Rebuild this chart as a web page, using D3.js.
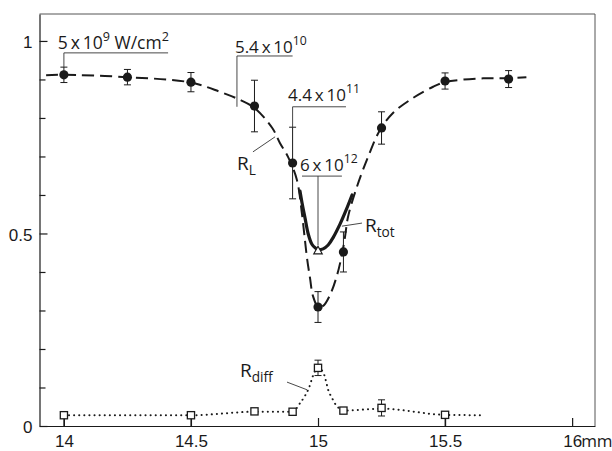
<!DOCTYPE html>
<html>
<head>
<meta charset="utf-8">
<script src="https://cdn.jsdelivr.net/npm/d3@7"></script>
<style>
  html, body { margin: 0; padding: 0; background: #fff; }
  svg { display: block; font-family: 'Open Sans', 'DejaVu Sans', sans-serif; }
</style>
</head>
<body>
<div id="chart"></div>
<script>
// R_L measured points (filled circles) with symmetric error
const rlX = [14, 14.25, 14.5, 14.75, 14.9, 15, 15.1, 15.25, 15.5, 15.75];
const rlY = [0.912, 0.906, 0.893, 0.831, 0.683, 0.309, 0.452, 0.774, 0.896, 0.901];
const rlErr = [0.02, 0.02, 0.025, 0.067, 0.093, 0.04, 0.052, 0.042, 0.021, 0.022];

// dashed R_L curve
const rlCurveX = [13.93, 14.0, 14.25, 14.5, 14.614, 14.693, 14.75, 14.82, 14.85, 14.882, 14.917, 14.937,
  14.949, 14.957, 14.969, 14.98, 15.0, 15.02, 15.047, 15.075, 15.094, 15.106, 15.118, 15.153, 15.197,
  15.244, 15.295, 15.374, 15.453, 15.5, 15.65, 15.75, 15.82];
const rlCurveY = [0.911, 0.912, 0.906, 0.892, 0.868, 0.847, 0.826, 0.774, 0.735, 0.699, 0.639, 0.55,
  0.48, 0.435, 0.382, 0.338, 0.31, 0.312, 0.34, 0.392, 0.445, 0.49, 0.543, 0.621, 0.699,
  0.769, 0.813, 0.852, 0.881, 0.893, 0.903, 0.903, 0.906];

// thick R_tot curve + triangle point
const rtotCurveX = [14.929, 14.937, 14.949, 14.961, 14.976, 14.99, 15.0, 15.02, 15.04, 15.06, 15.087, 15.11, 15.134];
const rtotCurveY = [0.61, 0.58, 0.54, 0.50, 0.472, 0.462, 0.458, 0.46, 0.47, 0.49, 0.525, 0.56, 0.60];
const rtotX = [15.0];
const rtotY = [0.455];

// R_diff measured points (open squares)
const rdX = [14, 14.5, 14.75, 14.9, 15, 15.1, 15.25, 15.5];
const rdY = [0.028, 0.028, 0.038, 0.037, 0.151, 0.04, 0.047, 0.029];
const rdErrDown = [0.028, 0.028, 0, 0, 0.02, 0, 0.021, 0.029];
const rdErrUp = [0, 0, 0, 0, 0.02, 0, 0.021, 0];

// dotted R_diff curve
const rdCurveX = [14.02, 14.5, 14.75, 14.9, 14.93, 14.95, 14.965, 14.98, 15.0, 15.02, 15.03, 15.04,
  15.055, 15.07, 15.085, 15.1, 15.25, 15.5, 15.64];
const rdCurveY = [0.028, 0.028, 0.037, 0.037, 0.06, 0.08, 0.1, 0.13, 0.151, 0.14, 0.12, 0.094,
  0.073, 0.055, 0.045, 0.04, 0.045, 0.029, 0.028];

// axes
const xTicks = [14, 14.5, 15, 15.5, 16];
const xTickLabels = ['14', '14.5', '15', '15.5', '16'];
const yTicks = [0, 0.5, 1];
const yTickLabels = ['0', '0.5', '1'];
const yMinor = [0.1, 0.2, 0.3, 0.4, 0.6, 0.7, 0.8, 0.9];

const W = 612;
const H = 451;
const ink = '#1a1a1a';
const thin = '\u2009';

const x = d3.scaleLinear().domain([13.904, 16.09]).range([39.5, 595]);
const y = d3.scaleLinear().domain([0, 1.07]).range([426, 14]);

const svg = d3.select('#chart').append('svg').attr('width', W).attr('height', H);

// frame top / right
svg.append('path')
  .attr('d', `M${x.range()[0]},${y.range()[1]} H${x.range()[1]} V${y.range()[0]}`)
  .attr('fill', 'none')
  .attr('stroke', '#555')
  .attr('stroke-width', 1);

// y axis, ticks pointing inward
const yAxis = svg.append('g')
  .attr('transform', `translate(${x.range()[0]},0)`)
  .call(d3.axisLeft(y).tickValues(yTicks).tickFormat((d, i) => yTickLabels[i])
    .tickSizeInner(-8).tickSizeOuter(0).tickPadding(7));
svg.append('g')
  .attr('transform', `translate(${x.range()[0]},0)`)
  .call(d3.axisLeft(y).tickValues(yMinor).tickFormat('').tickSizeInner(-6).tickSizeOuter(0))
  .call((g) => g.select('.domain').remove());

// x axis
svg.append('g')
  .attr('transform', `translate(0,${y(0)})`)
  .call(d3.axisBottom(x).tickValues(xTicks).tickFormat((d, i) => xTickLabels[i])
    .tickSizeInner(-8).tickSizeOuter(0).tickPadding(9));

svg.selectAll('.domain').attr('stroke', ink).attr('stroke-width', 1.2);
svg.selectAll('.tick line').attr('stroke', ink).attr('stroke-width', 1.2);
svg.selectAll('.tick text').attr('font-size', 17).attr('fill', ink).attr('font-family', null);
yAxis.selectAll('.tick text').attr('dy', '0.4em');

svg.append('text')
  .attr('x', x(16) + 9)
  .attr('y', y(0) + 9)
  .attr('dy', '0.71em')
  .attr('font-size', 17)
  .attr('fill', ink)
  .text('mm');

const line = d3.line().x((d) => x(d[0])).y((d) => y(d[1])).curve(d3.curveCatmullRom.alpha(0.5));
const zip = (a, b) => a.map((v, i) => [v, b[i]]);

// R_L dashed curve
svg.append('path')
  .datum(zip(rlCurveX, rlCurveY))
  .attr('d', line)
  .attr('fill', 'none')
  .attr('stroke', ink)
  .attr('stroke-width', 2)
  .attr('stroke-dasharray', '12 6');

// R_tot thick curve
svg.append('path')
  .datum(zip(rtotCurveX, rtotCurveY))
  .attr('d', line)
  .attr('fill', 'none')
  .attr('stroke', ink)
  .attr('stroke-width', 3.2)
  .attr('stroke-linecap', 'round');

// R_diff dotted curve
svg.append('path')
  .datum(zip(rdCurveX, rdCurveY))
  .attr('d', d3.line().x((d) => x(d[0])).y((d) => y(d[1])).curve(d3.curveMonotoneX))
  .attr('fill', 'none')
  .attr('stroke', ink)
  .attr('stroke-width', 2)
  .attr('stroke-linecap', 'round')
  .attr('stroke-dasharray', '0.1 5');

function errBar(cx, lo, hi, cap) {
  const g = svg.append('g').attr('stroke', ink).attr('stroke-width', 1);
  g.append('line').attr('x1', x(cx)).attr('x2', x(cx)).attr('y1', y(lo)).attr('y2', y(hi));
  if (cap) {
    [lo, hi].forEach((v) => g.append('line')
      .attr('x1', x(cx) - 3.5).attr('x2', x(cx) + 3.5).attr('y1', y(v)).attr('y2', y(v)));
  }
}

rlX.forEach((v, i) => errBar(v, rlY[i] - rlErr[i], rlY[i] + rlErr[i], true));
rdX.forEach((v, i) => {
  if (rdErrDown[i] || rdErrUp[i]) errBar(v, rdY[i] - rdErrDown[i], rdY[i] + rdErrUp[i], rdErrUp[i] > 0);
});

svg.append('g')
  .selectAll('circle')
  .data(zip(rlX, rlY))
  .join('circle')
  .attr('cx', (d) => x(d[0]))
  .attr('cy', (d) => y(d[1]))
  .attr('r', 4.6)
  .attr('fill', ink);

svg.append('g')
  .selectAll('rect')
  .data(zip(rdX, rdY))
  .join('rect')
  .attr('x', (d) => x(d[0]) - 3.6)
  .attr('y', (d) => y(d[1]) - 3.6)
  .attr('width', 7.2)
  .attr('height', 7.2)
  .attr('fill', '#fff')
  .attr('stroke', ink)
  .attr('stroke-width', 1.3);

svg.append('g')
  .selectAll('path')
  .data(zip(rtotX, rtotY))
  .join('path')
  .attr('transform', (d) => `translate(${x(d[0])},${y(d[1])})`)
  .attr('d', 'M0,-4.5 L4.2,3 L-4.2,3 Z')
  .attr('fill', '#fff')
  .attr('stroke', ink)
  .attr('stroke-width', 1.2);

// annotation brackets and leader lines (data coords)
function seg(pts, w = 0.9) {
  svg.append('path')
    .attr('d', d3.line().x((d) => x(d[0])).y((d) => y(d[1]))(pts))
    .attr('fill', 'none')
    .attr('stroke', '#333')
    .attr('stroke-width', w);
}
seg([[14, 0.932], [14, 0.969], [14.41, 0.969]]);
seg([[14.681, 0.829], [14.681, 0.961], [14.9, 0.961]]);
seg([[14.9, 0.776], [14.9, 0.829], [15.11, 0.829]]);
seg([[14.937, 0.649], [15.094, 0.649]]);
seg([[15.0, 0.649], [15.0, 0.47]]);
seg([[14.744, 0.712], [14.831, 0.751]]);
seg([[15.094, 0.519], [15.173, 0.527]]);
seg([[14.878, 0.114], [14.957, 0.094]]);

function rich(px, py, parts, size) {
  const t = svg.append('text').attr('x', x(px)).attr('y', y(py)).attr('fill', ink).attr('font-size', size);
  let shift = 0;
  parts.forEach(([s, kind]) => {
    const target = kind === 'sup' ? -8 : kind === 'sub' ? 5 : 0;
    t.append('tspan')
      .attr('dy', target - shift)
      .attr('font-size', kind ? size * 0.72 : size)
      .text(s);
    shift = target;
  });
}
rich(13.976, 0.979, [[`5${thin}x${thin}10`], ['9', 'sup'], [' W/cm'], ['2', 'sup']], 17.5);
rich(14.673, 0.969, [[`5.4${thin}x${thin}10`], ['10', 'sup']], 17);
rich(14.882, 0.844, [[`4.4${thin}x${thin}10`], ['11', 'sup']], 17);
rich(14.929, 0.662, [[`6${thin}x${thin}10`], ['12', 'sup']], 17);
rich(14.681, 0.665, [['R'], ['L', 'sub']], 19);
rich(15.185, 0.504, [['R'], ['tot', 'sub']], 19);
rich(14.693, 0.127, [['R'], ['diff', 'sub']], 19);
</script>
</body>
</html>
